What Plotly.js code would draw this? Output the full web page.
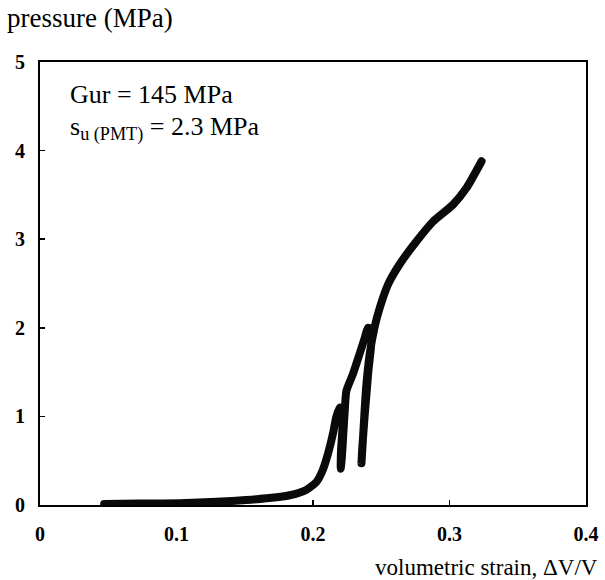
<!DOCTYPE html>
<html>
<head>
<meta charset="utf-8">
<script src="https://cdn.plot.ly/plotly-3.0.1.min.js"></script>
<style>
html,body{margin:0;padding:0;background:#fff}
#chart{width:605px;height:580px}
#chart .scatterlayer .js-line{stroke-linecap:round;stroke-linejoin:round}
</style>
</head>
<body>
<div id="chart"></div>
<script>
// volumetric strain (ΔV/V) and pressure (MPa)
var strain = [0.047, 0.073, 0.102, 0.151, 0.183, 0.195, 0.2025, 0.207, 0.211, 0.2147, 0.217, 0.2196, 0.222,
  0.2215, 0.2205, 0.2203, 0.2212, 0.2222, 0.2232, 0.2245, 0.2293, 0.234, 0.238, 0.2403, 0.243,
  0.2405, 0.2378, 0.236, 0.2355, 0.2368, 0.2388, 0.2415, 0.245, 0.249, 0.255, 0.2636, 0.276, 0.288, 0.3026, 0.3125, 0.3235];
var pressure = [0.01, 0.017, 0.02, 0.056, 0.11, 0.17, 0.26, 0.39, 0.58, 0.81, 0.99, 1.10, 1.07,
  0.85, 0.60, 0.41, 0.55, 0.80, 1.05, 1.29, 1.48, 1.70, 1.89, 2.0, 1.98,
  1.5, 1.0, 0.62, 0.47, 0.8, 1.3, 1.7, 2.0, 2.23, 2.49, 2.72, 2.98, 3.20, 3.39, 3.58, 3.88];
var xTicks = [0, 0.1, 0.2, 0.3, 0.4];
var xTickText = ['0', '0.1', '0.2', '0.3', '0.4'];
var yTicks = [0, 1, 2, 3, 4, 5];
var yTickText = ['0', '1', '2', '3', '4', '5'];
var yTitle = 'pressure (MPa)';
var xTitle = 'volumetric strain, \u0394V/V';
var note1 = 'Gur = 145 MPa';
var note2 = 's<sub>u (PMT)</sub> = 2.3 MPa';

var serif = 'Liberation Serif, Times New Roman, serif';
var trace = {
  x: strain, y: pressure, type: 'scatter', mode: 'lines',
  line: {color: '#0a0a0a', width: 8, shape: 'spline', smoothing: 0.6},
  hoverinfo: 'skip'
};
var layout = {
  width: 605, height: 580,
  margin: {l: 40, r: 19, t: 62, b: 75},
  paper_bgcolor: '#fff', plot_bgcolor: '#fff',
  showlegend: false,
  xaxis: {
    range: [0, 0.4], showgrid: false, zeroline: false,
    showline: true, mirror: true, linecolor: '#000', linewidth: 2,
    ticks: 'inside', ticklen: 5, tickwidth: 1.5, tickcolor: '#000',
    tickvals: xTicks, ticktext: xTickText,
    tickfont: {family: serif, size: 20, color: '#000', weight: 'bold'},
    ticklabelstandoff: 10
  },
  yaxis: {
    range: [0, 5], showgrid: false, zeroline: false,
    showline: true, mirror: true, linecolor: '#000', linewidth: 2,
    ticks: 'inside', ticklen: 5, tickwidth: 1.5, tickcolor: '#000',
    tickvals: yTicks, ticktext: yTickText,
    tickfont: {family: serif, size: 20, color: '#000', weight: 'bold'},
    ticklabelstandoff: 9
  },
  annotations: [
    {text: yTitle, xref: 'paper', yref: 'paper', x: -0.064, y: 1.0, yshift: 44,
     xanchor: 'left', yanchor: 'middle', showarrow: false,
     font: {family: serif, size: 27, color: '#000'}},
    {text: xTitle, xref: 'paper', yref: 'paper', x: 1.0, xshift: 14, y: 0, yshift: -62,
     xanchor: 'right', yanchor: 'middle', showarrow: false,
     font: {family: serif, size: 23, color: '#000'}},
    {text: note1, xref: 'paper', yref: 'paper', x: 0.051, y: 1.0, yshift: -32,
     xanchor: 'left', yanchor: 'middle', showarrow: false,
     font: {family: serif, size: 26, color: '#000'}},
    {text: note2, xref: 'paper', yref: 'paper', x: 0.051, y: 1.0, yshift: -66,
     xanchor: 'left', yanchor: 'middle', showarrow: false,
     font: {family: serif, size: 26, color: '#000'}}
  ]
};
Plotly.newPlot('chart', [trace], layout, {displayModeBar: false, staticPlot: true});
</script>
</body>
</html>
